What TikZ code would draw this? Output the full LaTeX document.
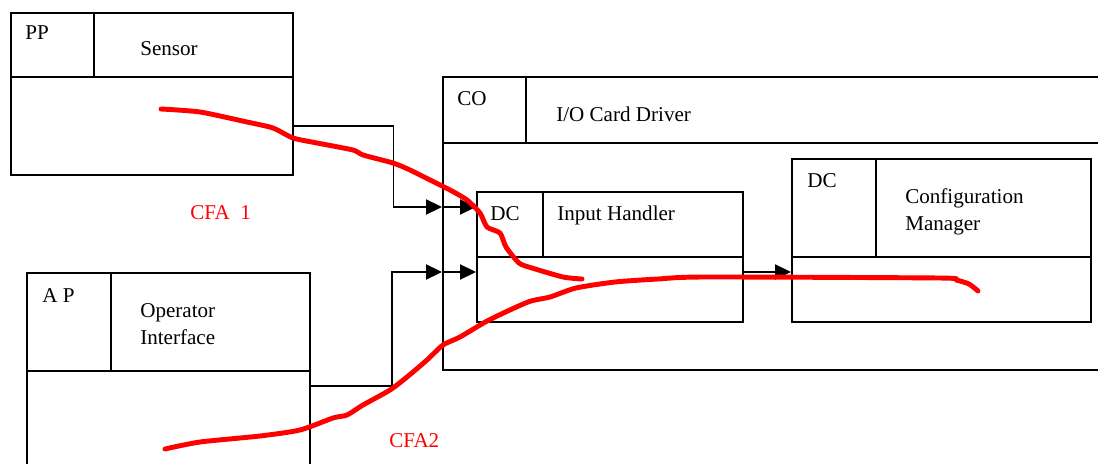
\documentclass[tikz,border=0pt]{standalone}
\usepackage{fontspec}
\setmainfont{Liberation Serif}
\usetikzlibrary{arrows.meta,positioning,calc}

\begin{document}
\begin{tikzpicture}[x=0.25mm,y=-0.25mm,>={Triangle[length=4mm,width=3.8mm]},
  cell/.style={draw,line width=1.2pt,inner sep=0pt,anchor=north west},
  sz/.style 2 args={minimum width=#1*0.25mm,minimum height=#2*0.25mm},
  txt/.style={inner sep=0pt,anchor=base west,font=\fontsize{15}{19.5}\selectfont},
  conn/.style={line width=1pt},
  flow/.style={red,line width=3.5pt,line cap=round,line join=round}]
\useasboundingbox (0,0) rectangle (1098,464);
% PP : Sensor
\node[cell,sz={83}{64}] (pptag) at (10,12) {};
\node[cell,sz={199}{64}] (ppname) at (93,12) {};
\node[cell,sz={282}{98}] (ppbody) at (10,76) {};
\node[txt] (pplbl) at (25,40) {PP};
\node[txt] (sensor) at (140,56) {Sensor};
% AP : Operator Interface
\node[cell,sz={84}{98}] (aptag) at (26,272) {};
\node[cell,sz={199}{98}] (apname) at (110,272) {};
\node[cell,sz={283}{120}] (apbody) at (26,370) {};
\node[txt] (aplbl) at (42,302) {A P};
\node[txt,align=left,anchor=north west] (opif) at (140,303) {Operator\\Interface};
% CO : I/O Card Driver
\node[cell,sz={83}{66}] (cotag) at (442,76) {};
\node[cell,sz={620}{66}] (coname) at (525,76) {};
\node[cell,sz={703}{227}] (cobody) at (442,142) {};
\node[txt] (colbl) at (457,106) {CO};
\node[txt] (iocard) at (556,122) {I/O Card Driver};
% DC : Input Handler
\node[cell,sz={66}{65}] (ihtag) at (476,191) {};
\node[cell,sz={200}{65}] (ihname) at (542,191) {};
\node[cell,sz={266}{65}] (ihbody) at (476,256) {};
\node[txt] (ihlbl) at (490,220) {DC};
\node[txt] (input) at (557,220) {Input Handler};
% DC : Configuration Manager
\node[cell,sz={84}{98}] (cmtag) at (791,158) {};
\node[cell,sz={215}{98}] (cmname) at (875,158) {};
\node[cell,sz={299}{65}] (cmbody) at (791,256) {};
\node[txt] (cmlbl) at (807,187) {DC};
\node[txt,align=left,anchor=north west] (config) at (905,188) {Configuration\\Manager};
% connectors
\coordinate (in1) at (442,207);
\coordinate (in2) at (442,272);
\coordinate (apout) at (309,386);
\draw[conn,->] (ppbody.east) -- ++(100,0) |- (in1);
\draw[conn,->] (in1) -- (in1 -| ihtag.west);
\draw[conn,->] (apout) -- ++(83,0) |- (in2);
\draw[conn,->] (in2) -- (in2 -| ihbody.west);
\draw[conn,->] (in2 -| ihbody.east) -- (in2 -| cmbody.west);
% control flow paths
\draw[flow] plot[smooth,tension=0.4] coordinates {(161,109) (200,112) (247,122) (273,128)
  (293,138) (317,143) (353,150) (363,155) (393,163) (410,170) (430,180) (450,190) (467,200)
  (480,213) (487,227) (500,233) (506,247) (519,263) (532,268) (563,277) (582,279)};
\draw[flow] plot[smooth,tension=0.4] coordinates {(165,449) (200,442) (260,436) (300,430)
  (333,418) (347,415) (363,405) (390,390) (407,377) (427,360) (443,345) (460,337) (489,320)
  (528,302) (550,297) (576,288) (615,282) (658,279) (705,277) (939,278) (956,280) (969,284)
  (978,291)};
\node[txt,red] (cfa1) at (190,219) {CFA~~1};
\node[txt,red] (cfa2) at (389,447) {CFA2};
\end{tikzpicture}
\end{document}
